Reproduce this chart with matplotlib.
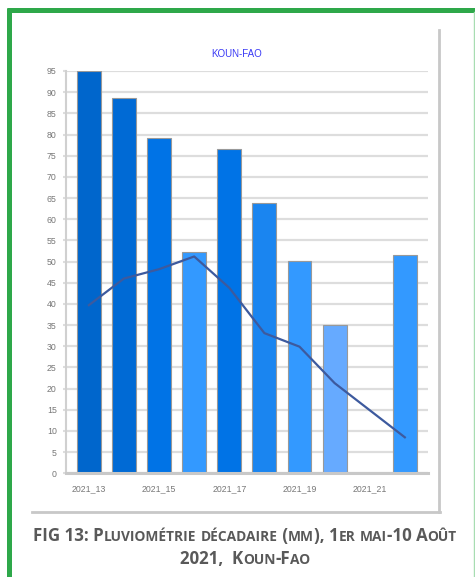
import matplotlib
matplotlib.use("Agg")
import matplotlib.pyplot as plt
from matplotlib.lines import Line2D
import numpy as np

# Rainfall per dekad (mm), Koun-Fao, 2021
categories = ["2021_13", "2021_14", "2021_15", "2021_16", "2021_17",
              "2021_18", "2021_19", "2021_20", "2021_21", "2021_22"]
rain_2021 = [95.0, 88.7, 79.1, 52.2, 76.6, 63.8, 50.2, 35.1, 0.0, 51.6]
normal = [39.7, 46.0, 48.2, 51.2, 43.8, 33.1, 29.9, 21.3, 14.9, 8.5]
bar_colors = ["#0066CC", "#006AD5", "#0073E6", "#3399FF", "#0073E6",
              "#1A85F0", "#3399FF", "#66AAFF", "#3399FF", "#3399FF"]
y_ticks = list(range(0, 100, 5))
title = "KOUN-FAO"

W, H = 475, 577
fig = plt.figure(figsize=(W / 100, H / 100), dpi=100)
fig.patch.set_facecolor("white")


def fx(x):
    return x / W


def fy(y):
    return 1 - y / H


# plot area
left, right, top, bottom = 65.7, 428, 71, 473.3
ax = fig.add_axes([fx(left), fy(bottom), fx(right - left), (bottom - top) / H])
x = np.arange(len(categories))
ax.bar(x, rain_2021, width=0.68, color=bar_colors, edgecolor="#999999",
       linewidth=0.8, zorder=2)
ax.plot(x, normal, color="#3D5A9E", linewidth=1.6, zorder=3)

ax.set_xlim(-0.66, len(categories) - 0.34)
ax.set_ylim(0, 95)
ax.set_yticks(y_ticks)
ax.set_yticklabels([str(v) for v in y_ticks], fontsize=6.3, color="#777777",
                   family="Liberation Sans")
ax.set_xticks(x[::2])
ax.set_xticklabels(categories[::2], fontsize=6.3, color="#777777",
                   family="Liberation Sans")
ax.tick_params(axis="y", length=2.5, width=1.5, color="#DDDDDD", pad=4)
ax.tick_params(axis="x", length=0, pad=8)
ax.grid(axis="y", color="#DDDDDD", linewidth=1.6, zorder=0)
ax.set_axisbelow(True)
for s in ["top", "right"]:
    ax.spines[s].set_visible(False)
ax.spines["left"].set_color("#D0D0D0")
ax.spines["left"].set_linewidth(1.5)
ax.spines["bottom"].set_color("#C8C8C8")
ax.spines["bottom"].set_linewidth(2.2)

fig.text(fx(237), fy(54), title, ha="center", va="center", fontsize=7,
         color="#3A3AF5", family="Liberation Sans")

# chart box shadow (right and bottom edges)
grey = "#C8C8C8"
fig.add_artist(Line2D([fx(438.7), fx(438.7)], [fy(30), fy(512)], color=grey,
                      linewidth=2, transform=fig.transFigure))
fig.add_artist(Line2D([fx(32), fx(439.5)], [fy(512), fy(512)], color=grey,
                      linewidth=2, transform=fig.transFigure))

# page frame
green = "#2EA84A"
fig.add_artist(Line2D([fx(8.5), fx(8.5)], [fy(8), fy(577)], color=green,
                      linewidth=3.6, transform=fig.transFigure,
                      solid_capstyle="butt"))
fig.add_artist(Line2D([fx(6.7), fx(475)], [fy(10), fy(10)], color=green,
                      linewidth=3.6, transform=fig.transFigure,
                      solid_capstyle="butt"))
fig.add_artist(Line2D([fx(473.5), fx(473.5)], [fy(12), fy(577)],
                      color="#A8DDB2", linewidth=1, transform=fig.transFigure))

# caption in small caps
renderer = fig.canvas.get_renderer()
cap_font = dict(family="Open Sans", weight="bold", color="#595959")
big, small = 12.2, 9.9


def small_caps_runs(text):
    runs = []
    for ch in text:
        if ch.islower():
            seg, size = ch.upper(), small
        else:
            seg, size = ch, big
        if runs and runs[-1][1] == size:
            runs[-1][0] += seg
        else:
            runs.append([seg, size])
    return runs


def draw_small_caps(text, xc, y):
    runs = small_caps_runs(text)
    pieces = []
    total = 0
    for seg, size in runs:
        t = fig.text(0, 0, seg, fontsize=size, **cap_font)
        w = t.get_window_extent(renderer).width
        t.remove()
        pieces.append((seg, size, w))
        total += w
    xpix = xc - total / 2
    for seg, size, w in pieces:
        fig.text(fx(xpix), fy(y), seg, fontsize=size, ha="left",
                 va="baseline", **cap_font)
        xpix += w


draw_small_caps("FIG 13: Pluviométrie décadaire (mm), 1er mai-10 Août", 245, 541)
draw_small_caps("2021,  Koun-Fao", 245, 564)

fig.savefig("out.png", dpi=100, facecolor="white")
